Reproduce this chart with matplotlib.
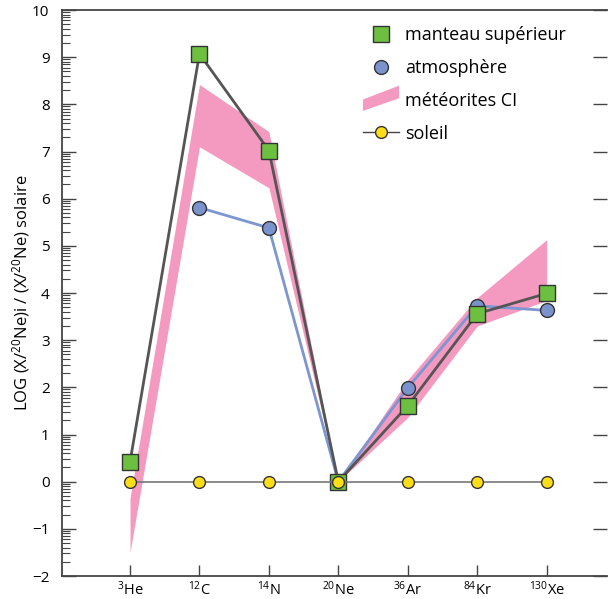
import numpy as np
import matplotlib
matplotlib.use("Agg")
import matplotlib.pyplot as plt
from matplotlib.lines import Line2D
from matplotlib.patches import Polygon
from matplotlib.legend_handler import HandlerPatch

plt.rcParams['font.family'] = ['Open Sans', 'DejaVu Sans']
plt.rcParams['mathtext.fontset'] = 'custom'
plt.rcParams['mathtext.rm'] = 'Open Sans'
plt.rcParams['mathtext.it'] = 'Open Sans'

# isotopes
labels = ["$^{3}$He", "$^{12}$C", "$^{14}$N", "$^{20}$Ne", "$^{36}$Ar", "$^{84}$Kr", "$^{130}$Xe"]
xpos = np.arange(1, 8)

manteau = [0.42, 9.07, 7.02, 0.0, 1.61, 3.56, 3.99]
atmos_x = [2, 3, 4, 5, 6, 7]
atmos = [5.81, 5.38, 0.0, 1.99, 3.73, 3.63]
soleil = [0, 0, 0, 0, 0, 0, 0]
ci_upper = [-0.35, 8.42, 7.42, 0.0, 2.16, 3.90, 5.13]
ci_lower = [-1.50, 7.10, 6.23, 0.0, 1.36, 3.30, 3.84]

fig = plt.figure(figsize=(6.08, 5.99), dpi=100)
ax = fig.add_axes([62/608, 1 - 576/599, 545/608, 566/599])

ax.fill_between(xpos, ci_lower, ci_upper, color='#f49ac1', lw=0, zorder=1)
ax.plot(atmos_x, atmos, color='#7b96d0', lw=2, marker='o', ms=10,
        mfc='#7b93cc', mec='#333333', mew=1, zorder=2)
ax.plot(xpos, manteau, color='#555555', lw=2, marker='s', ms=11,
        mfc='#6dbf3f', mec='#333333', mew=1, zorder=3)
ax.plot(xpos, soleil, color='#777777', lw=1.2, marker='o', ms=8.5,
        mfc='#ffde17', mec='#333333', mew=1, zorder=4)

ax.set_xlim(0.02, 7.87)
ax.set_ylim(-2, 10)

ax.spines['right'].set_visible(False)
for s in ['left', 'top', 'bottom']:
    ax.spines[s].set_color('#444444')
    ax.spines[s].set_linewidth(1.3)

ax.set_xticks(xpos)
ax.set_xticklabels(labels, fontsize=10.5)
ax.tick_params(axis='x', direction='in', length=8, width=1, color='#444444', pad=3)

ax.set_yticks(np.arange(-2, 11))
minor = [i - 1 + np.log10(k) for i in range(-1, 11) for k in range(2, 10)]
ax.set_yticks(minor, minor=True)
ax.tick_params(axis='y', which='major', direction='in', length=10, width=1,
               color='#444444', labelsize=11, pad=9, right=True)
ax.tick_params(axis='y', which='minor', direction='in', length=6, width=0.8,
               color='#444444', right=False)
ax.set_ylabel("LOG (X/$^{20}$Ne)i / (X/$^{20}$Ne) solaire", fontsize=12, labelpad=0)


def slanted(legend, orig_handle, xdescent, ydescent, width, height, fontsize):
    w, h = width, height
    return Polygon([(-xdescent, -ydescent - h * 0.4), (-xdescent + w, -ydescent + h * 0.6),
                    (-xdescent + w, -ydescent + h * 1.6), (-xdescent, -ydescent + h * 0.5)],
                   closed=True)


handles = [
    Line2D([], [], ls='none', marker='s', ms=11, mfc='#6dbf3f', mec='#333333', mew=1),
    Line2D([], [], ls='none', marker='o', ms=10, mfc='#7b93cc', mec='#333333', mew=1),
    Polygon([[0, 0]], color='#f49ac1', lw=0),
    Line2D([], [], color='#444444', lw=1, marker='o', ms=8.5, mfc='#ffde17', mec='#333333', mew=1),
]
names = ["manteau supérieur", "atmosphère", "météorites CI", "soleil"]
ax.legend(handles, names, loc='upper right', bbox_to_anchor=(0.955, 1.0), frameon=False,
          fontsize=13, numpoints=1, handlelength=2.0, handletextpad=0.35, labelspacing=0.82,
          handler_map={Polygon: HandlerPatch(patch_func=slanted)})

fig.savefig("out.png", dpi=100)
